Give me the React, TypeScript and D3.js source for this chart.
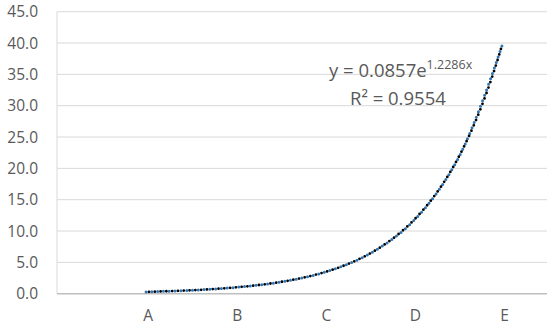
import { useMemo } from 'react';
import * as d3 from 'd3';

const categories = ['A', 'B', 'C', 'D', 'E'];
// series at half-category steps (A = 1 ... E = 5)
const seriesX = [1, 1.5, 2, 2.5, 3, 3.5, 4, 4.5, 5];
const values = [0.29, 0.54, 1.0, 1.85, 3.42, 6.3, 11.6, 21.5, 39.8];
const yTicks = [0, 5, 10, 15, 20, 25, 30, 35, 40, 45];
const trendA = 0.0857;
const trendB = 1.2286;
const rSquared = '0.9554';

const width = 553;
const height = 328;
const font = '"Open Sans", "DejaVu Sans", sans-serif';
const textColor = '#595959';

export default function App() {
  const x = d3.scaleLinear().domain([0, 5.5]).range([57, 547]);
  const y = d3.scaleLinear().domain([0, 45]).range([293.7, 11.7]);

  const dataPath = useMemo(() => {
    const line = d3
      .line<number>()
      .x((_, i) => x(seriesX[i]))
      .y((d) => y(d))
      .curve(d3.curveCatmullRom.alpha(0.5));
    return line(values) ?? '';
  }, []);

  const trendPath = useMemo(() => {
    // fitted exponential from the label
    const xs = d3.range(1, 5.0001, 0.02);
    const line = d3
      .line<number>()
      .x((d) => x(d))
      .y((d) => y(trendA * Math.exp(trendB * d)));
    return line(xs) ?? '';
  }, []);

  return (
    <svg
      width={width}
      height={height}
      style={{ position: 'absolute', left: 0, top: 0, background: '#fff' }}
      fontFamily={font}
    >
      {/* gridlines */}
      {yTicks.slice(1).map((t) => (
        <line
          key={t}
          x1={x(0)}
          x2={x(5.5)}
          y1={y(t)}
          y2={y(t)}
          stroke="#d9d9d9"
          strokeWidth={1}
        />
      ))}
      <line x1={x(0)} x2={x(0)} y1={y(45)} y2={y(0)} stroke="#d9d9d9" strokeWidth={1} />
      <line x1={x(0)} x2={x(5.5)} y1={y(0)} y2={y(0)} stroke="#bfbfbf" strokeWidth={1.5} />

      {/* y labels */}
      {yTicks.map((t) => (
        <text
          key={t}
          x={38}
          y={y(t)}
          dy="0.36em"
          textAnchor="end"
          fontSize={15.5}
          fill={textColor}
        >
          {t.toFixed(1)}
        </text>
      ))}

      {/* x labels */}
      {categories.map((c, i) => (
        <text key={c} x={x(i + 1) + 2} y={321} textAnchor="middle" fontSize={15.5} fill={textColor}>
          {c}
        </text>
      ))}

      {/* lines */}
      <path
        d={dataPath}
        fill="none"
        stroke="#2e75b6"
        strokeWidth={3}
        strokeLinecap="round"
        strokeDasharray="0 5.8"
      />
      <path
        d={trendPath}
        fill="none"
        stroke="#000"
        strokeWidth={2.8}
        strokeLinecap="round"
        strokeDasharray="0 5.8"
        strokeDashoffset={2.9}
      />

      {/* trendline label */}
      <text x={329} y={77} fontSize={18.5} fill={textColor}>
        y = 0.0857e
        <tspan fontSize={12.5} dy={-8}>
          1.2286x
        </tspan>
      </text>
      <text x={350} y={105} fontSize={18.5} fill={textColor}>
        R² = {rSquared}
      </text>
    </svg>
  );
}
